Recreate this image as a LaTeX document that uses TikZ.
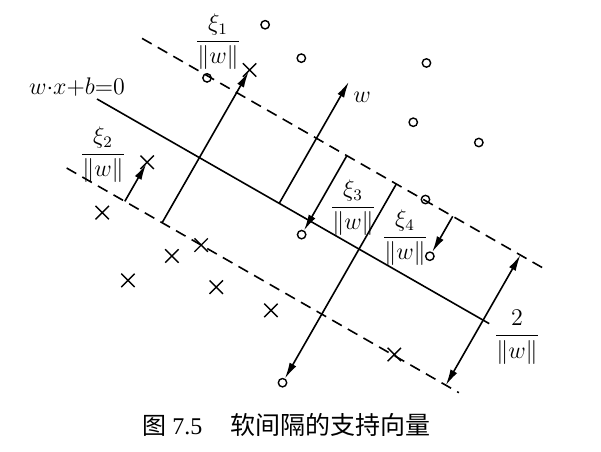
\documentclass[tikz,border=0pt]{standalone}
\usepackage{fontspec}
\setmainfont{Liberation Serif}
\newfontfamily\cjk{Noto Sans CJK SC}
\usetikzlibrary{arrows.meta,shapes.misc}
\begin{document}
\begin{tikzpicture}[x=0.5pt,y=0.5pt,
  ln/.style={line width=0.8pt},
  margin/.style={line width=0.8pt,dash pattern=on 5.5pt off 3.5pt},
  arr/.style={line width=0.8pt,-{Latex[length=8pt,width=3.8pt]}},
  darr/.style={line width=0.8pt,{Latex[length=8pt,width=3.8pt]}-{Latex[length=8pt,width=3.8pt]}},
  posdot/.style={circle,draw,line width=0.7pt,inner sep=0pt,minimum size=4.2pt},
  negmark/.style={cross out,draw,line width=0.7pt,inner sep=0pt,minimum size=6pt},
  lab/.style={font=\fontsize{11.5}{13}\selectfont,inner sep=1pt}]
\useasboundingbox (0,0) rectangle (601,451);
\begin{scope}[shift={(97,352)},rotate=-29.8]
  % hyperplane and margins
  \coordinate (h0) at (0,0);
  \coordinate (h1) at (452,0);
  \draw[ln] (h0) -- (h1);
  \coordinate (u0) at (9,75);
  \coordinate (u1) at (475,75);
  \draw[margin] (u0) -- (u1);
  \coordinate (l0) at (8,-75);
  \coordinate (l1) at (460,-75);
  \draw[margin] (l0) -- (l1);
  % positive points
  \node[posdot] (c1) at (109,148) {};
  \node[posdot] (c2) at (157,137) {};
  \node[posdot] (c3) at (85,73) {};
  \node[posdot] (c4) at (268,195) {};
  \node[posdot] (c5) at (286,137) {};
  \node[posdot] (c6) at (353,152) {};
  \node[posdot] (c7) at (335,76) {};
  \node[posdot] (c8) at (245,-16) {};
  \node[posdot] (c9) at (367,29) {};
  \node[posdot] (c10) at (302,-154) {};
  % negative points
  \node[negmark] (x1) at (118,101) {};
  \node[negmark] (x2) at (75,-30) {};
  \node[negmark] (x3) at (61,-96) {};
  \node[negmark] (x4) at (163,-75) {};
  \node[negmark] (x5) at (143,-99) {};
  \node[negmark] (x6) at (117,-142) {};
  \node[negmark] (x7) at (197,-104) {};
  \node[negmark] (x8) at (256,-97) {};
  \node[negmark] (x9) at (385,-74) {};
  % slack arrows
  \coordinate (b1) at (118,-75);
  \draw[arr,shorten >=1pt] (b1) -- (x1.center);
  \coordinate (b2) at (75,-75);
  \draw[arr,shorten >=1pt] (b2) -- (x2.center);
  \coordinate (wb) at (210,0);
  \coordinate (wt) at (210,140);
  \draw[arr] (wb) -- (wt);
  \coordinate (b3) at (245,75);
  \draw[arr] (b3) -- (c8);
  \coordinate (b5) at (302,75);
  \draw[arr] (b5) -- (c10);
  \coordinate (b4) at (367,75);
  \draw[arr] (b4) -- (c9);
  \coordinate (d0) at (445,-75);
  \coordinate (d1) at (445,75);
  \draw[darr] (d0) -- (d1);
\end{scope}
% labels
\node[lab] (hyp) at (77,364) {$w{\cdot}x{+}b{=}0$};
\node[lab] (f1) at (218,409) {$\displaystyle\frac{\xi_1}{\|w\|}$};
\node[lab] (f2) at (103,296) {$\displaystyle\frac{\xi_2}{\|w\|}$};
\node[lab] (wl) at (362,354) {$w$};
\node[lab] (f3) at (353,243) {$\displaystyle\frac{\xi_3}{\|w\|}$};
\node[lab] (f4) at (405,213) {$\displaystyle\frac{\xi_4}{\|w\|}$};
\node[lab] (f5) at (517,114) {$\displaystyle\frac{2}{\|w\|}$};
\node[anchor=west,inner sep=0pt,font=\fontsize{12}{14}\selectfont] (cap) at (142,26)
  {{\cjk 图} 7.5\hspace{14pt}{\cjk\fontsize{12.5}{14}\selectfont 软间隔的支持向量}};
\end{tikzpicture}
\end{document}
